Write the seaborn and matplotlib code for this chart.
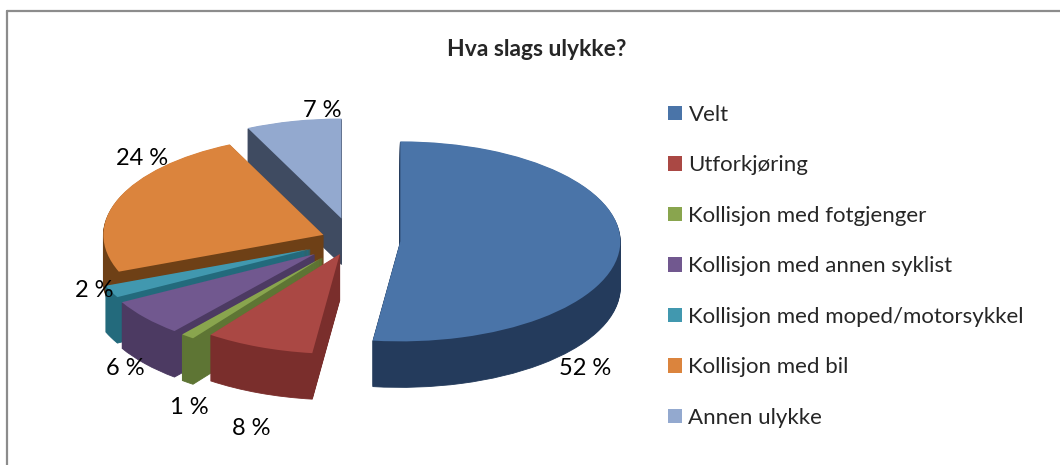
import numpy as np
import seaborn as sns
import matplotlib.pyplot as plt
from matplotlib.lines import Line2D

# Data
categories = ['Velt', 'Utforkjøring', 'Kollisjon med fotgjenger',
              'Kollisjon med annen syklist', 'Kollisjon med moped/motorsykkel',
              'Kollisjon med bil', 'Annen ulykke']
shares = [52, 8, 1, 6, 2, 24, 7]

# Style / layout
top_colors = ['#4A74A8', '#AA4844', '#89A54E', '#71588F', '#4198AF', '#DB843D', '#93A9CF']
side_colors = ['#243B5C', '#7A2E2C', '#5E7534', '#4C3A62', '#236A7C', '#6E4016', '#3F4B61']
explode = [0.22, 0.15, 0.22, 0.22, 0.21, 0.14, 0.22]
label_xy = [(1.06, -1.28), (-0.46, -1.88), (-0.74, -1.67), (-1.03, -1.28),
            (-1.17, -0.50), (-0.955, 0.82), (-0.136, 1.30)]

sns.set_theme(style='white')
plt.rcParams['font.family'] = ['Lato', 'DejaVu Sans']

W, H = 1060, 465
fig = plt.figure(figsize=(W / 100, H / 100), dpi=100)
ax = fig.add_axes([0, 0, 1, 1])

# pie center at pixel (352, 240); 1 unit = 220 px horizontally, 100 px vertically
cx, cy, rx, ry = 352, 240, 220, 100
depth = 0.46
n_layers = 46

# back-to-front drawing order from the mid angle of each slice
fr = np.array(shares) / sum(shares)
ends = 90 - 360 * np.cumsum(fr)
mids = ends + 180 * fr
rank = np.argsort(np.argsort(-np.sin(np.radians(mids))))

for k in range(n_layers + 1):
    dz = -depth * (1 - k / n_layers)
    is_top = k == n_layers
    wedges, _ = ax.pie(shares, explode=explode, startangle=90, counterclock=False,
                       colors=top_colors if is_top else side_colors,
                       center=(0, dz), radius=1,
                       wedgeprops=dict(linewidth=0.6 if not is_top else 0))
    for i, w in enumerate(wedges):
        if not is_top:
            w.set_edgecolor(side_colors[i])
        w.set_zorder(10 + rank[i] * 2 + (1 if is_top else 0))
    if is_top:
        top_wedges = wedges

ax.set_aspect('auto')
ax.set_xlim(-cx / rx, (W - cx) / rx)
ax.set_ylim((cy - H) / ry, cy / ry)
ax.axis('off')

for (x, y), v in zip(label_xy, shares):
    ax.text(x, y, f'{v} %', ha='center', va='center', fontsize=17, color='black', zorder=50)

fig.text(537 / W, 1 - 50 / H, 'Hva slags ulykke?', ha='center', va='center',
         fontsize=16.5, fontweight='bold')

fig.legend(handles=top_wedges, labels=categories, loc='upper left',
           bbox_to_anchor=(668 / W, 1 - 105 / H), frameon=False, fontsize=16,
           handlelength=0.62, handleheight=0.62, handletextpad=0.3,
           labelspacing=1.37, borderpad=0, borderaxespad=0)

# chart frame (only top and left edges are visible)
fig.add_artist(Line2D([7 / W, 1], [1 - 11 / H, 1 - 11 / H], color='#8C8C8C', lw=1.6))
fig.add_artist(Line2D([7 / W, 7 / W], [0, 1 - 11 / H], color='#8C8C8C', lw=1.6))

fig.savefig('out.png', dpi=100)
